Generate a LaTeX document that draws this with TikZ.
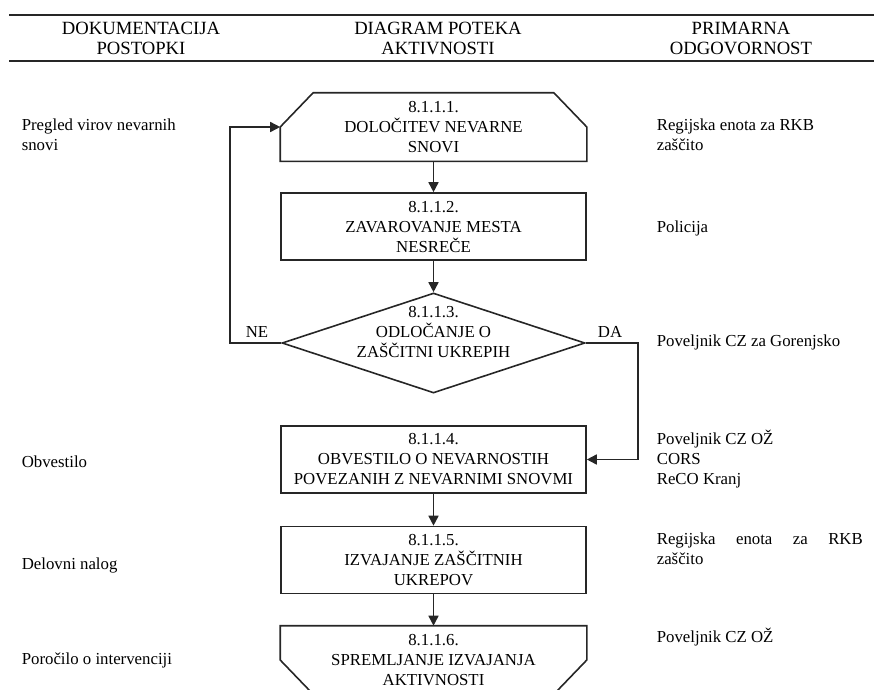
\documentclass[tikz,border=0pt]{standalone}
\usepackage{fontspec}
\setmainfont{Liberation Serif}
\usetikzlibrary{arrows.meta,shapes.geometric}
\newcommand{\dfont}{\fontsize{12.6}{15}\selectfont}
\newcommand{\hfont}{\fontsize{14}{15}\selectfont}
\tikzset{every picture/.style={line width=1.2pt}}
\tikzset{
  actbox/.style={rectangle, draw=black!85, minimum width=228.75pt, minimum height=50.25pt, inner sep=0pt, align=center, font=\dfont},
  arr/.style={draw=black!85, -{Triangle[length=7.5pt,width=7.5pt]}},
  rule/.style={draw=black!85, line width=1.5pt},
  side/.style={anchor=west, inner sep=0pt, align=left, font=\dfont}
}
\begin{document}
\begin{tikzpicture}[x=0.75pt,y=0.75pt,yscale=-1,xscale=1]
\useasboundingbox (0,0) rectangle (874,689);
\clip (0,0) rectangle (874,689);

%Header rules
\draw [rule] (9,15) -- (874,15);
\draw [rule] (9,61) -- (874,61);

% Header Text
\draw (141,38) node (hdA) [inner sep=0pt][align=center][font=\hfont] {DOKUMENTACIJA\\POSTOPKI};
\draw (438,38) node (hdB) [inner sep=0pt][align=center][font=\hfont] {DIAGRAM POTEKA\\AKTIVNOSTI};
\draw (741,38) node (hdC) [inner sep=0pt][align=center][font=\hfont] {PRIMARNA\\ODGOVORNOST};

%Shape: Hexagon (loop start)
\node (b1) at (433.5,127) [actbox, draw=none] {8.1.1.1.\\DOLOČITEV NEVARNE\\SNOVI};
\draw [black!85] ([xshift=24.75pt]b1.north west) -- ([xshift=-24.75pt]b1.north east) -- (b1.east) -- (b1.south east) -- (b1.south west) -- (b1.west) -- cycle;
%Shape: Rectangle
\node (b2) at (433.5,226.5) [actbox] {8.1.1.2.\\ZAVAROVANJE MESTA\\NESREČE};
%Shape: Diamond
\node (d3) at (433.5,343) [diamond, draw=black!85, minimum width=227.25pt, minimum height=75pt, inner sep=0pt] {};
\draw (433.5,332) node (d3t) [inner sep=0pt][align=center][font=\dfont] {8.1.1.3.\\ODLOČANJE O\\ZAŠČITNI UKREPIH};
%Shape: Rectangle
\node (b4) at (433.5,459.5) [actbox] {8.1.1.4.\\OBVESTILO O NEVARNOSTIH\\POVEZANIH Z NEVARNIMI SNOVMI};
%Shape: Rectangle
\node (b5) at (433.5,560) [actbox] {8.1.1.5.\\IZVAJANJE ZAŠČITNIH\\UKREPOV};
%Shape: Loop end
\node (b6) at (433.5,660) [actbox, draw=none] {8.1.1.6.\\SPREMLJANJE IZVAJANJA\\AKTIVNOSTI};
\draw [black!85] (b6.north west) -- (b6.north east) -- (b6.east) -- ([xshift=-24.75pt]b6.south east) -- ([xshift=24.75pt]b6.south west) -- (b6.west) -- cycle;

%Connectors
\draw [arr] (b1.south) -- (b2.north);
\draw [arr] (b2.south) -- (d3.north);
\draw [arr] (d3.west) -- ++(-51,0) |- (b1.west);
\draw [arr] (d3.east) -- ++(52,0) |- (b4.east);
\draw [arr] (b4.south) -- (b5.north);
\draw [arr] (b5.south) -- (b6.north);

% Branch labels
\draw (257,332) node (lblNE) [inner sep=0pt][font=\dfont] {NE};
\draw (610,332) node (lblDA) [inner sep=0pt][font=\dfont] {DA};

% Text Node: documentation
\draw (21,135) node (docA) [side] {Pregled virov nevarnih\\snovi};
\draw (21,462) node (docB) [side] {Obvestilo};
\draw (21,565) node (docC) [side] {Delovni nalog};
\draw (21,660) node (docD) [side] {Poročilo o intervenciji};

% Text Node: responsibility
\draw (656,135) node (respA) [side] {Regijska enota za RKB\\zaščito};
\draw (656,228) node (respB) [side] {Policija};
\draw (656,342) node (respC) [side] {Poveljnik CZ za Gorenjsko};
\draw (656,459) node (respD) [side] {Poveljnik CZ OŽ\\CORS\\ReCO Kranj};
\draw (656,549) node (respE) [side, text width=154.5pt] {Regijska\hfill enota\hfill za\hfill RKB\\zaščito};
\draw (656,637) node (respF) [side] {Poveljnik CZ OŽ};
\end{tikzpicture}
\end{document}
